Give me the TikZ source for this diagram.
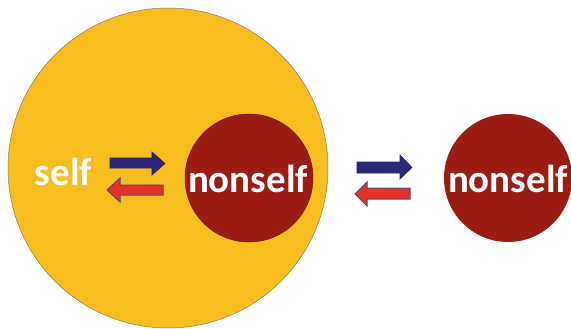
\documentclass[tikz,border=0pt]{standalone}
\usepackage{fontspec}
\setmainfont{Carlito}
\definecolor{gold}{HTML}{F8BD1E}
\definecolor{maroon}{HTML}{9A1C12}
\definecolor{navy}{HTML}{2C2878}
\definecolor{brightred}{HTML}{E6332A}
\definecolor{rimgray}{HTML}{8A7A60}
\begin{document}
\begin{tikzpicture}[x=1pt,y=-1pt,
  label/.style={text=white,font=\fontsize{39}{39}\selectfont\bfseries,inner sep=0pt},
  blob/.style={circle,inner sep=0pt,minimum size=128pt},
  fwd/.style={fill=navy,draw=navy!80!black,line width=0.6pt,line join=miter},
  bwd/.style={fill=brightred,draw=navy!60!gray,line width=1pt,line join=miter}]
\useasboundingbox (0,0) rectangle (571,329);
% outer self region
\node[circle,minimum size=320pt,inner sep=0pt,fill=gold,draw=rimgray,line width=0.5pt] (outer) at (168,168) {};
% nonself inside self
\node[blob,fill=maroon,draw=maroon!70!black,line width=0.5pt] (inner) at (249,178) {};
% free nonself
\node[blob,fill=maroon] (free) at (508,178) {};
% labels
\node[label,anchor=base] (selflbl) at (63.5,185) {self};
\node[label,anchor=base] (innerlbl) at (248,193) {nonself};
\node[label,anchor=base] (freelbl) at (508,192) {nonself};
% left pair of arrows
\draw[fwd] (110,158) -- (152,158) -- (152,152) -- (165,163.5) -- (152,175) -- (152,168) -- (110,168) -- cycle;
\draw[bwd] (163,185) -- (120,185) -- (120,178) -- (107,190) -- (120,202) -- (120,195) -- (163,195) -- cycle;
% right pair of arrows
\draw[fwd] (357,162) -- (400,162) -- (400,155) -- (412,167.5) -- (400,179) -- (400,173) -- (357,173) -- cycle;
\draw[bwd] (410,188) -- (367,188) -- (367,182) -- (355,194) -- (367,206) -- (367,199) -- (410,199) -- cycle;
\end{tikzpicture}
\end{document}
